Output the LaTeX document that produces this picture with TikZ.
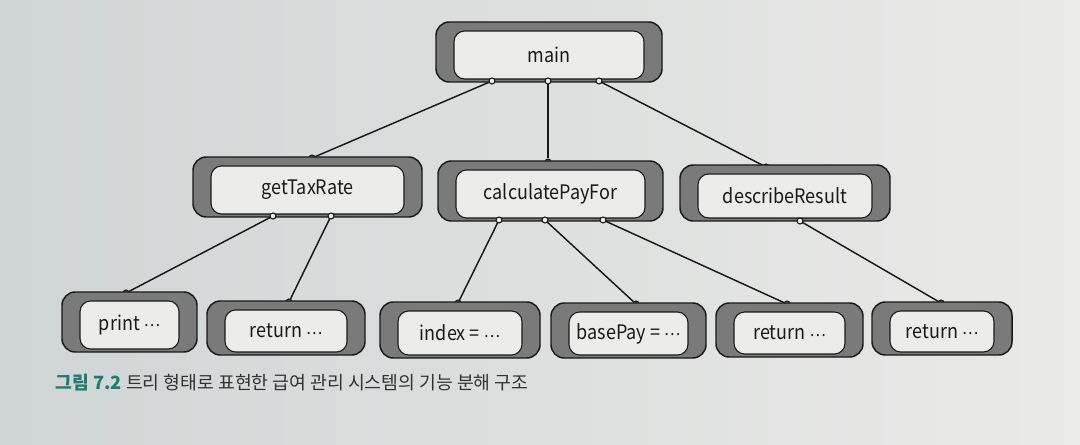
\documentclass[tikz,border=0pt]{standalone}
\usepackage{fontspec}
\setmainfont{Noto Sans CJK KR}
\usetikzlibrary{calc}
\tikzset{every picture/.style={line width=0.75pt}}
\newdimen\px \px=0.75pt
\newcommand{\mdots}{\raisebox{0.32ex}{\scalebox{0.85}{…}}}
\definecolor{paperL}{RGB}{208,213,213}
\definecolor{paperR}{RGB}{234,234,232}
\definecolor{boxgray}{RGB}{122,122,122}
\definecolor{boxface}{RGB}{236,237,234}
\definecolor{ink}{RGB}{25,25,25}
\definecolor{captxt}{RGB}{50,50,50}
\definecolor{capnum}{RGB}{30,125,115}
\tikzset{
  outerbox/.style={draw=ink, fill=boxgray, rounded corners=10pt, line width=1.1pt, inner sep=0pt},
  innerbox/.style={draw=ink, fill=boxface, rounded corners=8pt, line width=0.8pt, inner sep=0pt,
    text=ink, font=\fontsize{15}{18}\selectfont},
  topdot/.style={circle, draw=ink, fill=boxgray, line width=0.8pt, minimum size=6\px, inner sep=0pt},
  botdot/.style={circle, draw=ink, fill=boxface, line width=0.8pt, minimum size=6\px, inner sep=0pt},
  link/.style={draw=ink, line width=1.1pt}
}
% name, x, y, width, height, text
\newcommand{\fnbox}[6]{%
  \node [outerbox, minimum width=#4\px, minimum height=#5\px] (#1) at (#2,#3) {};
  \node [innerbox, minimum width=#4\px-36\px, minimum height=#5\px-12\px] (#1-in) at ($(#1)+(0,3)$) {\scalebox{0.9}[1]{#6}};
}

\begin{document}
\begin{tikzpicture}[x=0.75pt,y=0.75pt,yscale=-1,xscale=1]
\useasboundingbox (0,0) rectangle (1080,445);
%Paper
\shade [left color=paperL, right color=paperR] (0,0) rectangle (1080,445);

%Joints on top of the child boxes
\node [topdot] (tax-t) at (312,158) {};
\node [topdot] (calc-t) at (548,162) {};
\node [topdot] (desc-t) at (766,167) {};
\node [topdot] (print-t) at (126,293) {};
\node [topdot] (ret1-t) at (289,302) {};
\node [topdot] (index-t) at (458,303) {};
\node [topdot] (pay-t) at (636,304) {};
\node [topdot] (ret2-t) at (787,304) {};
\node [topdot] (ret3-t) at (941,303) {};

%Joints under the parent boxes
\coordinate (main-a) at (492,81);
\coordinate (main-b) at (548,81);
\coordinate (main-c) at (599,81);
\coordinate (tax-a) at (273,216);
\coordinate (tax-b) at (331,216);
\coordinate (calc-a) at (499,220);
\coordinate (calc-b) at (545,220);
\coordinate (calc-c) at (603,220);
\coordinate (desc-a) at (800,221);

%Straight Lines
\draw [link] (main-a) -- (tax-t);
\draw [link] (main-b) -- (calc-t);
\draw [link] (main-c) -- (desc-t);
\draw [link] (tax-a) -- (print-t);
\draw [link] (tax-b) -- (ret1-t);
\draw [link] (calc-a) -- (index-t);
\draw [link] (calc-b) -- (pay-t);
\draw [link] (calc-c) -- (ret2-t);
\draw [link] (desc-a) -- (ret3-t);

%Rounded Rect
\fnbox{main}{549}{52}{226}{60}{main}
\fnbox{tax}{307.5}{187}{229}{60}{getTaxRate}
\fnbox{calc}{550.5}{191}{225}{60}{calculatePayFor}
\fnbox{desc}{785}{193}{210}{56}{describeResult}
\fnbox{print}{129.5}{322}{135}{60}{print \mdots}
\fnbox{ret1}{286}{328}{158}{54}{return \mdots}
\fnbox{index}{460}{330}{160}{56}{index = \mdots}
\fnbox{pay}{628.5}{330.5}{155}{55}{basePay = \mdots}
\fnbox{ret2}{789.5}{330}{147}{54}{return \mdots}
\fnbox{ret3}{942}{328.5}{140}{53}{return \mdots}

%Joint circles
\node [botdot] (main-a-o) at (main-a) {};
\node [botdot] (main-b-o) at (main-b) {};
\node [botdot] (main-c-o) at (main-c) {};
\node [botdot] (tax-a-o) at (tax-a) {};
\node [botdot] (tax-b-o) at (tax-b) {};
\node [botdot] (calc-a-o) at (calc-a) {};
\node [botdot] (calc-b-o) at (calc-b) {};
\node [botdot] (calc-c-o) at (calc-c) {};
\node [botdot] (desc-a-o) at (desc-a) {};

% Text Node
\node [anchor=west, inner sep=0pt, text=captxt, font=\fontsize{13.7}{16}\selectfont] (caption) at (55,383)
  {{\bfseries\color{capnum}그림 7.2}\ 트리 형태로 표현한 급여 관리 시스템의 기능 분해 구조};

\end{tikzpicture}
\end{document}
